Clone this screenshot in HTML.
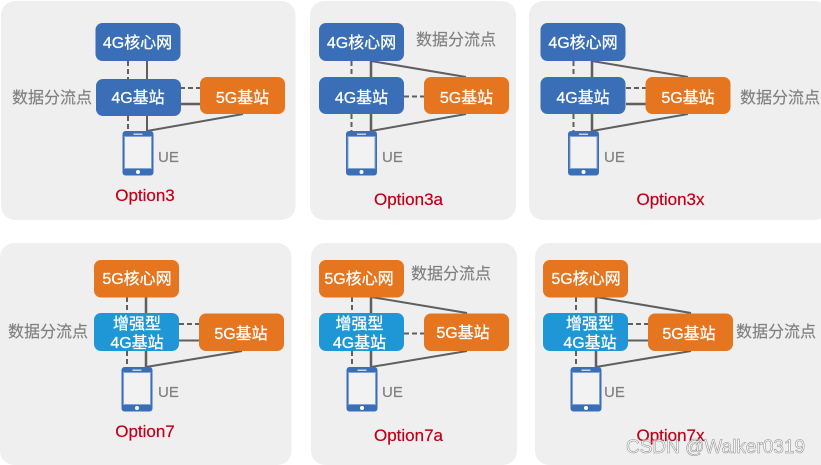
<!DOCTYPE html>
<html><head><meta charset="utf-8">
<style>
html,body{margin:0;padding:0;background:#fff;width:821px;height:465px;overflow:hidden}
svg{display:block;filter:blur(.35px)}
text{font-family:"Liberation Sans","Noto Sans CJK SC",sans-serif;font-size:16px}
.w{fill:#fff;stroke:#fff;stroke-width:.3px;text-anchor:middle}
.g{fill:#7f7f7f;stroke:#7f7f7f;stroke-width:.15px}
.u{fill:#7f7f7f;stroke:#7f7f7f;stroke-width:.15px;font-size:15px}
.r{fill:#c00018;stroke:#c00018;stroke-width:.2px;text-anchor:middle;font-size:17px}
.s{stroke:#5f5f5f;stroke-width:2;fill:none}
.t{stroke:#5f5f5f;stroke-width:2.5;fill:none}
.d{stroke:#5f5f5f;stroke-width:2;stroke-dasharray:5 3;fill:none}
.p{fill:#efefef}
.b{fill:#3a6fb7}
.o{fill:#e6751f}
.c{fill:#1f97d6}
</style></head><body>
<svg width="821" height="465" viewBox="0 0 821 465" xmlns="http://www.w3.org/2000/svg">
<defs>
<g id="ph">
<rect x="0" y="0" width="31" height="44.500" rx="3" fill="#3a6fb7"/>
<rect x="1.500" y="5" width="28" height="33" fill="#7fa3d6"/>
<rect x="2.500" y="6" width="26" height="31" fill="#f2f2f2"/>
<rect x="11" y="2.500" width="9" height="1.500" fill="#c5d3e8"/>
<circle cx="15.500" cy="41" r="2" fill="#fff"/>
</g>
</defs>
<rect class="p" x="1" y="1" width="294.500" height="219" rx="14"/>
<rect class="p" x="310" y="1" width="206" height="219" rx="14"/>
<rect class="p" x="529" y="1" width="300" height="219" rx="14"/>
<rect class="p" x="0" y="243" width="291.500" height="222" rx="14"/>
<rect class="p" x="311" y="243" width="206" height="222" rx="14"/>
<rect class="p" x="535" y="243" width="300" height="222" rx="14"/>

<!-- Option3 -->
<path class="d" d="M128 61V79M128 116V131M180 88H200"/>
<path class="s" d="M147 61V79M147 116V131M147 131L243 114"/>
<path class="t" d="M180 104H200"/>
<rect class="b" x="95.500" y="23" width="85" height="38" rx="7"/>
<rect class="b" x="96" y="79" width="85" height="37" rx="7"/>
<rect class="o" x="200" y="77" width="85" height="37" rx="7"/>
<use href="#ph" x="122.500" y="131"/>
<text class="w" x="137.500" y="48">4G核心网</text>
<text class="w" x="138" y="103">4G基站</text>
<text class="w" x="242.500" y="103">5G基站</text>
<text class="g" x="12" y="103">数据分流点</text>
<text class="u" x="158" y="162">UE</text>
<text class="r" x="145" y="201">Option3</text>

<!-- Option3a -->
<path class="d" d="M351.500 61V77M351.500 114V131M404 96.500H424"/>
<path class="t" d="M371 61V77M371 114V131"/>
<path class="s" d="M371 61L466 77M371 131L466 114"/>
<rect class="b" x="319" y="23" width="85" height="38" rx="7"/>
<rect class="b" x="319" y="77" width="85" height="37" rx="7"/>
<rect class="o" x="424" y="77" width="85" height="37" rx="7"/>
<use href="#ph" x="346" y="131"/>
<text class="w" x="361.500" y="48">4G核心网</text>
<text class="w" x="361.500" y="103">4G基站</text>
<text class="w" x="466.500" y="103">5G基站</text>
<text class="g" x="416" y="45">数据分流点</text>
<text class="u" x="382" y="162">UE</text>
<text class="r" x="408.500" y="205">Option3a</text>

<!-- Option3x -->
<path class="d" d="M573.500 61V77M573.500 114V131M626 88H646"/>
<path class="t" d="M592 61V77M592 114V131M626 104H646"/>
<path class="s" d="M592 61L688 77M592 131L688 114"/>
<rect class="b" x="540.500" y="23" width="85" height="38" rx="7"/>
<rect class="b" x="540.500" y="77" width="85" height="37" rx="7"/>
<rect class="o" x="645.500" y="77" width="85" height="37" rx="7"/>
<use href="#ph" x="568" y="131"/>
<text class="w" x="583" y="48">4G核心网</text>
<text class="w" x="583" y="103">4G基站</text>
<text class="w" x="688" y="103">5G基站</text>
<text class="g" x="740" y="103">数据分流点</text>
<text class="u" x="604" y="162">UE</text>
<text class="r" x="670.500" y="205">Option3x</text>

<!-- Option7 -->
<path class="d" d="M127 297V313M127 351V367M179 324H199"/>
<path class="t" d="M146 297V313M146 351V367"/>
<path class="s" d="M179 340.500H199M146 367L242 351"/>
<rect class="o" x="94" y="260" width="85" height="37.500" rx="7"/>
<rect class="c" x="94" y="313" width="85" height="38" rx="7"/>
<rect class="o" x="199" y="313.500" width="85" height="37.500" rx="7"/>
<use href="#ph" x="121.500" y="367"/>
<text class="w" x="137" y="284">5G核心网</text>
<text class="w" x="137" y="329">增强型</text>
<text class="w" x="137" y="348">4G基站</text>
<text class="w" x="241" y="339">5G基站</text>
<text class="g" x="8" y="337">数据分流点</text>
<text class="u" x="158" y="397">UE</text>
<text class="r" x="145" y="437">Option7</text>

<!-- Option7a -->
<path class="d" d="M352 297V313M352 351V367M404 333.500H424"/>
<path class="t" d="M371 297V313M371 351V367"/>
<path class="s" d="M371 297L467 313M371 367L467 351"/>
<rect class="o" x="319" y="260" width="85" height="37.500" rx="7"/>
<rect class="c" x="319" y="313" width="85" height="38" rx="7"/>
<rect class="o" x="424" y="313.500" width="85" height="37.500" rx="7"/>
<use href="#ph" x="346.500" y="367"/>
<text class="w" x="359" y="284">5G核心网</text>
<text class="w" x="359.500" y="329">增强型</text>
<text class="w" x="359.500" y="348">4G基站</text>
<text class="w" x="463" y="338">5G基站</text>
<text class="g" x="411" y="279">数据分流点</text>
<text class="u" x="382" y="397">UE</text>
<text class="r" x="408.500" y="441">Option7a</text>

<!-- Option7x -->
<path class="d" d="M576 297V313M576 351V367M628 324H648"/>
<path class="t" d="M596 297V313M596 351V367"/>
<path class="s" d="M628 340.500H648M596 297L691 313M596 367L691 351"/>
<rect class="o" x="543" y="260" width="85" height="37.500" rx="7"/>
<rect class="c" x="543" y="313" width="85" height="38" rx="7"/>
<rect class="o" x="648" y="313.500" width="85" height="37.500" rx="7"/>
<use href="#ph" x="570.500" y="367"/>
<text class="w" x="586" y="284">5G核心网</text>
<text class="w" x="590" y="329">增强型</text>
<text class="w" x="590" y="348">4G基站</text>
<text class="w" x="689" y="339">5G基站</text>
<text class="g" x="736" y="337">数据分流点</text>
<text class="u" x="604" y="397">UE</text>
<text class="r" x="670.500" y="441">Option7x</text>

<text x="626" y="453" style="font-size:19px;fill:#fff;fill-opacity:.6;stroke:#8a8a8a;stroke-width:.5px">CSDN @Walker0319</text>
</svg>
</body></html>
